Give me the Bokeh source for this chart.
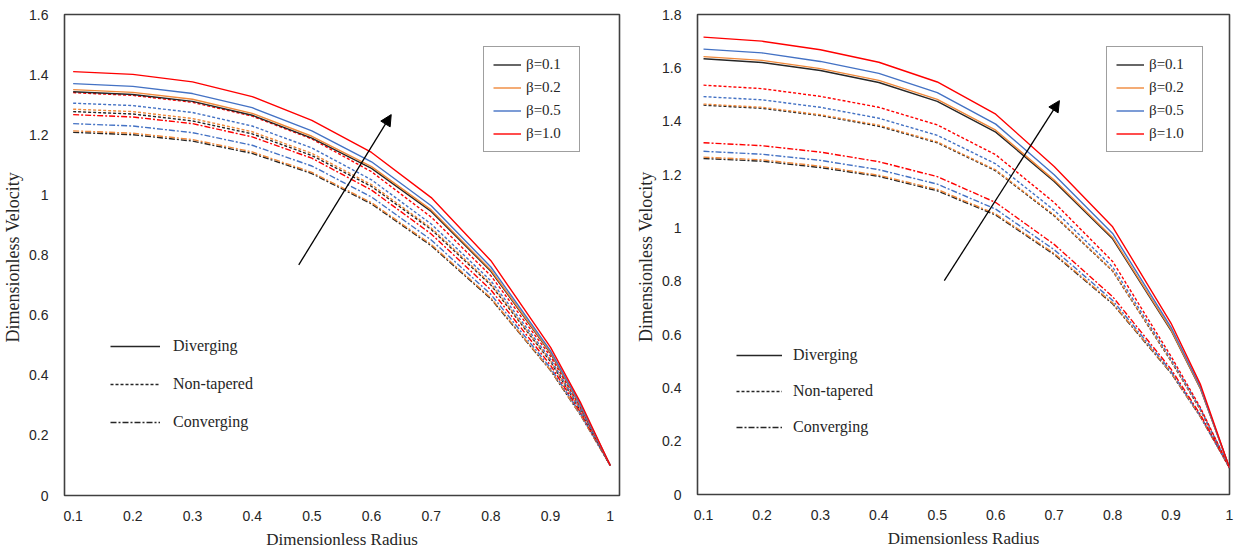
from bokeh.plotting import figure
from bokeh.layouts import row
from bokeh.models import Range1d, FixedTicker, Legend, LegendItem, Arrow, NormalHead
from bokeh.embed import file_html
from bokeh.resources import INLINE

# ---------------- data ----------------
radius = [0.1, 0.2, 0.3, 0.4, 0.5, 0.6, 0.7, 0.8, 0.9, 0.95, 1.0]
beta_labels = ["β=0.1", "β=0.2", "β=0.5", "β=1.0"]
shape_labels = ["Diverging", "Non-tapered", "Converging"]

# left panel: diverging (solid)
L_div_b01 = [1.343, 1.334, 1.311, 1.265, 1.189, 1.088, 0.945, 0.746, 0.473, 0.299, 0.1]
L_div_b02 = [1.350, 1.341, 1.318, 1.271, 1.195, 1.094, 0.950, 0.750, 0.475, 0.300, 0.1]
L_div_b05 = [1.370, 1.361, 1.337, 1.290, 1.213, 1.110, 0.964, 0.760, 0.481, 0.303, 0.1]
L_div_b10 = [1.410, 1.401, 1.376, 1.327, 1.248, 1.141, 0.991, 0.781, 0.493, 0.310, 0.1]
# left panel: non-tapered (dashed)
L_non_b01 = [1.277, 1.269, 1.246, 1.203, 1.131, 1.028, 0.885, 0.700, 0.445, 0.284, 0.1]
L_non_b02 = [1.285, 1.277, 1.254, 1.210, 1.138, 1.034, 0.890, 0.704, 0.448, 0.285, 0.1]
L_non_b05 = [1.305, 1.297, 1.274, 1.229, 1.156, 1.050, 0.903, 0.714, 0.453, 0.288, 0.1]
L_non_b10 = [1.340, 1.331, 1.308, 1.262, 1.186, 1.077, 0.926, 0.731, 0.463, 0.293, 0.1]
# left panel: converging (dash-dot)
L_con_b01 = [1.208, 1.200, 1.179, 1.138, 1.071, 0.970, 0.831, 0.654, 0.416, 0.268, 0.1]
L_con_b02 = [1.213, 1.205, 1.184, 1.143, 1.075, 0.974, 0.835, 0.657, 0.417, 0.269, 0.1]
L_con_b05 = [1.237, 1.229, 1.207, 1.165, 1.096, 0.993, 0.850, 0.669, 0.424, 0.273, 0.1]
L_con_b10 = [1.267, 1.259, 1.237, 1.193, 1.122, 1.016, 0.870, 0.684, 0.433, 0.277, 0.1]

# right panel: diverging (solid)
R_div_b01 = [1.634, 1.620, 1.590, 1.545, 1.474, 1.359, 1.174, 0.959, 0.615, 0.398, 0.1]
R_div_b02 = [1.642, 1.628, 1.597, 1.553, 1.482, 1.366, 1.179, 0.964, 0.618, 0.400, 0.1]
R_div_b05 = [1.670, 1.656, 1.624, 1.579, 1.507, 1.389, 1.199, 0.979, 0.627, 0.405, 0.1]
R_div_b10 = [1.715, 1.700, 1.668, 1.621, 1.547, 1.426, 1.230, 1.004, 0.642, 0.414, 0.1]
# right panel: non-tapered (dashed)
R_non_b01 = [1.460, 1.448, 1.421, 1.381, 1.319, 1.214, 1.045, 0.838, 0.500, 0.318, 0.1]
R_non_b02 = [1.464, 1.452, 1.424, 1.385, 1.322, 1.217, 1.048, 0.840, 0.502, 0.319, 0.1]
R_non_b05 = [1.492, 1.480, 1.452, 1.411, 1.347, 1.240, 1.066, 0.853, 0.508, 0.322, 0.1]
R_non_b10 = [1.535, 1.522, 1.493, 1.452, 1.386, 1.274, 1.095, 0.874, 0.518, 0.327, 0.1]
# right panel: converging (dash-dot)
R_con_b01 = [1.260, 1.250, 1.226, 1.193, 1.139, 1.048, 0.900, 0.715, 0.455, 0.292, 0.1]
R_con_b02 = [1.265, 1.255, 1.231, 1.197, 1.144, 1.052, 0.904, 0.718, 0.457, 0.293, 0.1]
R_con_b05 = [1.287, 1.276, 1.253, 1.218, 1.164, 1.070, 0.918, 0.728, 0.462, 0.296, 0.1]
R_con_b10 = [1.319, 1.308, 1.284, 1.248, 1.192, 1.095, 0.938, 0.742, 0.470, 0.300, 0.1]

x_ticks = [0.1, 0.2, 0.3, 0.4, 0.5, 0.6, 0.7, 0.8, 0.9, 1.0]
L_y_ticks = [0, 0.2, 0.4, 0.6, 0.8, 1.0, 1.2, 1.4, 1.6]
R_y_ticks = [0, 0.2, 0.4, 0.6, 0.8, 1.0, 1.2, 1.4, 1.6, 1.8]

# arrow annotations (data coordinates): x_start, y_start, x_end, y_end
L_arrow = [0.478, 0.767, 0.633, 1.267]
R_arrow = [0.512, 0.802, 0.709, 1.477]

# ---------------- style ----------------
colors = ["#262626", "#F0883A", "#4472C4", "#FF0000"]
dashes = {"Diverging": "solid", "Non-tapered": "3 2", "Converging": "6 2 2 2"}
SERIF = "Liberation Serif"
TICKFONT = "'Liberation Sans Narrow', 'Liberation Sans', sans-serif"


def make_panel(series, xr, yr, yticks, arrow, fw, fh, bl, br, bb,
               beta_loc, style_loc, style_gw, style_sp, style_so):
    p = figure(frame_width=fw, frame_height=fh, min_border_left=bl,
               min_border_right=br, min_border_top=14, min_border_bottom=bb,
               x_range=Range1d(*xr), y_range=Range1d(*yr),
               output_backend="svg", toolbar_location=None)
    p.grid.visible = False
    p.background_fill_color = "white"
    p.border_fill_color = "white"
    p.outline_line_color = "#404040"
    p.outline_line_width = 1.6

    for ax in (p.xaxis[0], p.yaxis[0]):
        ax.axis_line_color = None
        ax.major_tick_line_color = None
        ax.minor_tick_line_color = None
        ax.major_label_text_font = TICKFONT
        ax.major_label_text_font_size = "14px"
        ax.major_label_text_color = "#262626"
        ax.axis_label_text_font = SERIF
        ax.axis_label_text_font_style = "normal"
        ax.axis_label_text_color = "#262626"
    p.xaxis.axis_label_text_font_size = "17px"
    p.yaxis.axis_label_text_font_size = "18px"
    p.xaxis.ticker = FixedTicker(ticks=x_ticks)
    p.yaxis.ticker = FixedTicker(ticks=yticks)
    p.xaxis.major_label_overrides = {1.0: "1"}
    p.yaxis.major_label_overrides = {0: "0", 1.0: "1"}
    p.xaxis.axis_label = "Dimensionless Radius"
    p.yaxis.axis_label = "Dimensionless  Velocity"
    p.xaxis.major_label_standoff = 9
    p.xaxis.axis_label_standoff = 6
    p.yaxis.major_label_standoff = 10
    p.yaxis.axis_label_standoff = 3

    beta_renderers = [None] * 4
    for shape in ["Converging", "Non-tapered", "Diverging"]:
        for bi in range(4):
            ys = series[(shape, bi)]
            r = p.line(radius, ys, line_color=colors[bi], line_width=1.4,
                       line_dash=dashes[shape])
            if shape == "Diverging":
                beta_renderers[bi] = r

    # arrow
    p.add_layout(Arrow(end=NormalHead(size=11, fill_color="black", line_color="black"),
                       x_start=arrow[0], y_start=arrow[1], x_end=arrow[2], y_end=arrow[3],
                       line_color="black", line_width=1.3))

    # beta legend (boxed)
    beta_leg = Legend(items=[LegendItem(label=beta_labels[i], renderers=[beta_renderers[i]])
                             for i in range(4)],
                      location=beta_loc, orientation="vertical",
                      border_line_color="#404040", border_line_width=1.5,
                      background_fill_color="white", background_fill_alpha=1.0,
                      padding=9, spacing=6, margin=0,
                      glyph_width=28, glyph_height=17, label_height=17,
                      label_width=44, label_standoff=5,
                      label_text_font=SERIF, label_text_font_size="15px",
                      label_text_color="#262626")
    p.add_layout(beta_leg, "center")

    # style legend: proxy black lines with no visible points
    nan = float("nan")
    proxies = []
    for shape in shape_labels:
        proxies.append(p.line(radius[:2], [nan, nan], line_color="#262626", line_width=1.3,
                              line_dash=dashes[shape]))
    style_leg = Legend(items=[LegendItem(label=shape_labels[i], renderers=[proxies[i]])
                              for i in range(3)],
                       location=style_loc, orientation="vertical",
                       border_line_color=None, background_fill_alpha=0.0,
                       padding=0, spacing=style_sp, margin=0,
                       glyph_width=style_gw, glyph_height=20, label_height=20,
                       label_standoff=style_so,
                       label_text_font=SERIF, label_text_font_size="16px",
                       label_text_color="#262626")
    p.add_layout(style_leg, "center")
    return p


left_series = {}
right_series = {}
L_all = [[L_div_b01, L_div_b02, L_div_b05, L_div_b10],
         [L_non_b01, L_non_b02, L_non_b05, L_non_b10],
         [L_con_b01, L_con_b02, L_con_b05, L_con_b10]]
R_all = [[R_div_b01, R_div_b02, R_div_b05, R_div_b10],
         [R_non_b01, R_non_b02, R_non_b05, R_non_b10],
         [R_con_b01, R_con_b02, R_con_b05, R_con_b10]]
for si, shape in enumerate(shape_labels):
    for bi in range(4):
        left_series[(shape, bi)] = L_all[si][bi]
        right_series[(shape, bi)] = R_all[si][bi]

p1 = make_panel(left_series, (0.0855, 1.0155), (0, 1.6), L_y_ticks, L_arrow,
                555, 481, 61, 14, 58, (419, 343), (46, 63), 50, 18, 13)
p2 = make_panel(right_series, (0.0897, 1.0), (0, 1.8), R_y_ticks, R_arrow,
                532, 480, 62, 11, 59, (409, 342), (39, 57), 46, 16, 11)

layout = row(p1, p2)
open("out.html", "w").write(file_html(layout, INLINE))
